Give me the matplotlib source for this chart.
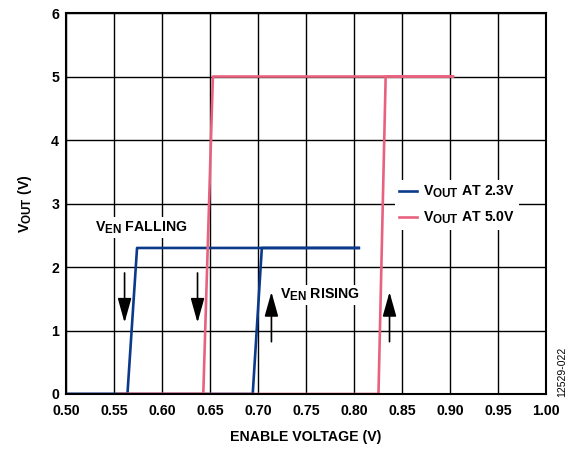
import matplotlib
matplotlib.use("Agg")
import matplotlib.pyplot as plt
import matplotlib._mathtext as mtx

# subindices un poco mas grandes, como en la figura original
mtx.SHRINK_FACTOR = 0.82

plt.rcParams['font.family'] = 'Liberation Sans'
plt.rcParams['font.weight'] = 'bold'
plt.rcParams['axes.labelweight'] = 'bold'
plt.rcParams['mathtext.fontset'] = 'custom'
plt.rcParams['mathtext.rm'] = 'Liberation Sans:bold'
plt.rcParams['mathtext.bf'] = 'Liberation Sans:bold'
plt.rcParams['mathtext.it'] = 'Liberation Sans:bold'

# Curvas de histeresis (V_EN bajando / subiendo)
azul_baja_x = [0.50, 0.564, 0.574, 0.805]
azul_baja_y = [0, 0, 2.3, 2.3]
azul_sube_x = [0.50, 0.6945, 0.704, 0.805]
azul_sube_y = [0, 0, 2.3, 2.3]
rosa_baja_x = [0.555, 0.643, 0.653, 0.903]
rosa_baja_y = [0, 0, 5, 5]
rosa_sube_x = [0.555, 0.8255, 0.833, 0.903]
rosa_sube_y = [0, 0, 5, 5]

xticks = [0.50, 0.55, 0.60, 0.65, 0.70, 0.75, 0.80, 0.85, 0.90, 0.95, 1.00]
yticks = [0, 1, 2, 3, 4, 5, 6]

azul = "#0B3A8A"
rosa = "#E8627F"
fs = 10.2

fig = plt.figure(figsize=(5.71, 4.49), dpi=100)
ax = fig.add_axes([0.1156, 0.1225, 0.8406, 0.8485])

ax.plot(azul_baja_x, azul_baja_y, color=azul, lw=1.9, label=r"$\mathregular{V_{OUT}}$ AT 2.3V")
ax.plot(azul_sube_x, azul_sube_y, color=azul, lw=1.9)
ax.plot(rosa_baja_x, rosa_baja_y, color=rosa, lw=1.9, label=r"$\mathregular{V_{OUT}}$ AT 5.0V")
ax.plot(rosa_sube_x, rosa_sube_y, color=rosa, lw=1.9)

ax.set_xlim(0.50, 1.00)
ax.set_ylim(0, 6)
ax.set_xticks(xticks)
ax.set_xticklabels(["%.2f" % t for t in xticks])
ax.set_yticks(yticks)
ax.tick_params(length=0, labelsize=fs)
ax.tick_params(axis="x", pad=7)
ax.tick_params(axis="y", pad=5)
ax.grid(True, color="black", lw=1.0)
ax.set_axisbelow(True)
for s in ax.spines.values():
    s.set_linewidth(1.5)

ax.set_xlabel("ENABLE VOLTAGE (V)", fontsize=fs, labelpad=9)
ax.set_ylabel(r"$\mathregular{V_{OUT}}$ (V)", fontsize=fs, labelpad=12)

# etiquetas y flechas
ax.text(0.530, 2.62, r"$\mathregular{V_{EN}}$ FALLING", fontsize=fs, ha="left", va="center",
        bbox=dict(facecolor="white", edgecolor="none", pad=1.5))
ax.text(0.723, 1.56, r"$\mathregular{V_{EN}}$ RISING", fontsize=fs, ha="left", va="center",
        bbox=dict(facecolor="white", edgecolor="none", pad=1.5))
flecha = dict(arrowstyle="-|>,head_length=1.5,head_width=0.42", color="black", lw=1.2)
ax.annotate("", xy=(0.561, 1.08), xytext=(0.561, 1.95), arrowprops=flecha)
ax.annotate("", xy=(0.637, 1.08), xytext=(0.637, 1.95), arrowprops=flecha)
ax.annotate("", xy=(0.714, 1.65), xytext=(0.714, 0.78), arrowprops=flecha)
ax.annotate("", xy=(0.837, 1.65), xytext=(0.837, 0.78), arrowprops=flecha)

leg = ax.legend(loc="center left", bbox_to_anchor=(0.67, 0.496), fontsize=fs, frameon=True,
                handlelength=1.3, handletextpad=0.4, labelspacing=0.65, borderpad=0.3)
leg.get_frame().set_edgecolor("none")
leg.get_frame().set_facecolor("white")
leg.get_frame().set_alpha(1)
leg.get_frame().set_boxstyle("square", pad=0)

fig.text(0.985, 0.171, "12529-022", rotation=90, fontsize=7.5, fontweight="normal",
         ha="center", va="center")

fig.savefig("out.png", dpi=100)
